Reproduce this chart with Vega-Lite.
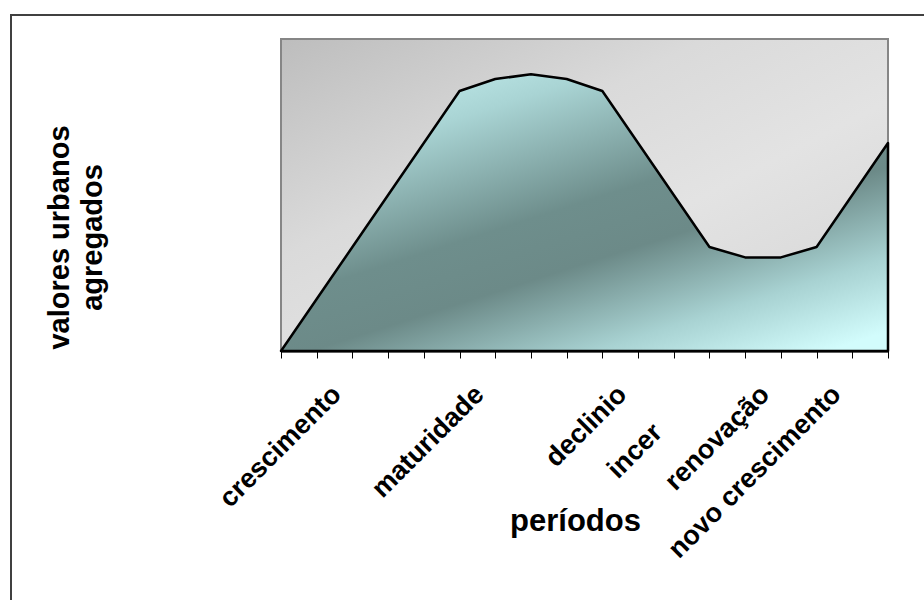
{
  "$schema": "https://vega.github.io/schema/vega-lite/v6.json",
  "width": 923,
  "height": 595,
  "autosize": {"type": "none"},
  "padding": {"left": 11, "top": 15, "right": -10, "bottom": -10},
  "background": "#ffffff",
  "view": {"stroke": "#404040", "strokeWidth": 2, "fill": "#ffffff"},
  "config": {"font": "Liberation Sans"},
  "layer": [
    {
      "data": {"values": [{"x0": 0, "x1": 17, "y0": 0, "y1": 6}]},
      "mark": {
        "type": "rect",
        "fill": {
          "gradient": "linear", "x1": 0, "y1": 0, "x2": 1, "y2": 1,
          "stops": [
            {"offset": 0, "color": "#bdbdbd"},
            {"offset": 0.35, "color": "#dadada"},
            {"offset": 0.6, "color": "#e3e3e3"},
            {"offset": 1, "color": "#d3d3d3"}
          ]
        },
        "stroke": "#868686",
        "strokeWidth": 2
      },
      "encoding": {
        "x": {"field": "x0", "type": "quantitative"},
        "x2": {"field": "x1"},
        "y": {"field": "y0", "type": "quantitative"},
        "y2": {"field": "y1"}
      }
    },
    {
      "data": {
        "values": [
          {"i": 0, "v": 0},
          {"i": 1, "v": 1},
          {"i": 2, "v": 2},
          {"i": 3, "v": 3},
          {"i": 4, "v": 4},
          {"i": 5, "v": 5},
          {"i": 6, "v": 5.23},
          {"i": 7, "v": 5.32},
          {"i": 8, "v": 5.23},
          {"i": 9, "v": 5},
          {"i": 10, "v": 4},
          {"i": 11, "v": 3},
          {"i": 12, "v": 2},
          {"i": 13, "v": 1.8},
          {"i": 14, "v": 1.8},
          {"i": 15, "v": 2},
          {"i": 16, "v": 3},
          {"i": 17, "v": 4}
        ]
      },
      "mark": {
        "type": "area",
        "fill": {
          "gradient": "linear", "x1": 0.2, "y1": 0, "x2": 0.9, "y2": 1,
          "stops": [
            {"offset": 0, "color": "#bfeaea"},
            {"offset": 0.15, "color": "#a9d4d4"},
            {"offset": 0.45, "color": "#6e8e8c"},
            {"offset": 0.6, "color": "#6c8a88"},
            {"offset": 0.82, "color": "#a8d2d2"},
            {"offset": 1, "color": "#d2fcfc"}
          ]
        },
        "stroke": "#000000",
        "strokeWidth": 2.5,
        "strokeJoin": "round"
      },
      "encoding": {
        "x": {
          "field": "i",
          "type": "quantitative",
          "scale": {"domain": [0, 17], "range": [270, 877], "nice": false, "zero": false},
          "axis": {
            "values": [0, 1, 2, 3, 4, 5, 6, 7, 8, 9, 10, 11, 12, 13, 14, 15, 16, 17],
            "labelExpr": "datum.value == 2 ? 'crescimento' : datum.value == 6 ? 'maturidade' : datum.value == 10 ? 'declinio' : datum.value == 12 ? 'incer' : datum.value == 14 ? 'renovação' : datum.value == 16 ? 'novo crescimento' : ''",
            "offset": -259,
            "grid": false,
            "domain": true,
            "domainColor": "#000000",
            "domainWidth": 2,
            "ticks": true,
            "tickColor": "#000000",
            "tickWidth": 1,
            "tickSize": 7,
            "labelAngle": -45,
            "labelAlign": "right",
            "labelBaseline": "middle",
            "labelFont": "Liberation Sans",
            "labelFontWeight": "bold",
            "labelFontSize": 27,
            "labelColor": "#000000",
            "labelLimit": 0,
            "labelOverlap": false,
            "labelBound": false,
            "labelFlush": false,
            "labelPadding": {"condition": {"test": "datum.value == 12", "value": 70}, "value": 32},
            "labelOffset": {"condition": {"test": "datum.value == 12", "value": -52}, "value": -16},
            "title": "períodos",
            "titleFont": "Liberation Sans",
            "titleFontWeight": "bold",
            "titleFontSize": 31,
            "titleColor": "#000000",
            "titleX": 564,
            "titleY": 179,
            "titleAlign": "center",
            "titleBaseline": "alphabetic"
          }
        },
        "y": {
          "field": "v",
          "type": "quantitative",
          "scale": {"domain": [0, 6], "range": [336, 24], "nice": false, "zero": false},
          "axis": {
            "domain": false,
            "ticks": false,
            "labels": false,
            "grid": false,
            "title": ["valores urbanos", "agregados"],
            "titleFont": "Liberation Sans",
            "titleFontWeight": "bold",
            "titleFontSize": 29,
            "titleLineHeight": 33,
            "titleColor": "#000000",
            "titleAngle": -90,
            "titleX": 48,
            "titleY": 222,
            "titleAlign": "center",
            "titleBaseline": "middle"
          }
        }
      }
    }
  ]
}
